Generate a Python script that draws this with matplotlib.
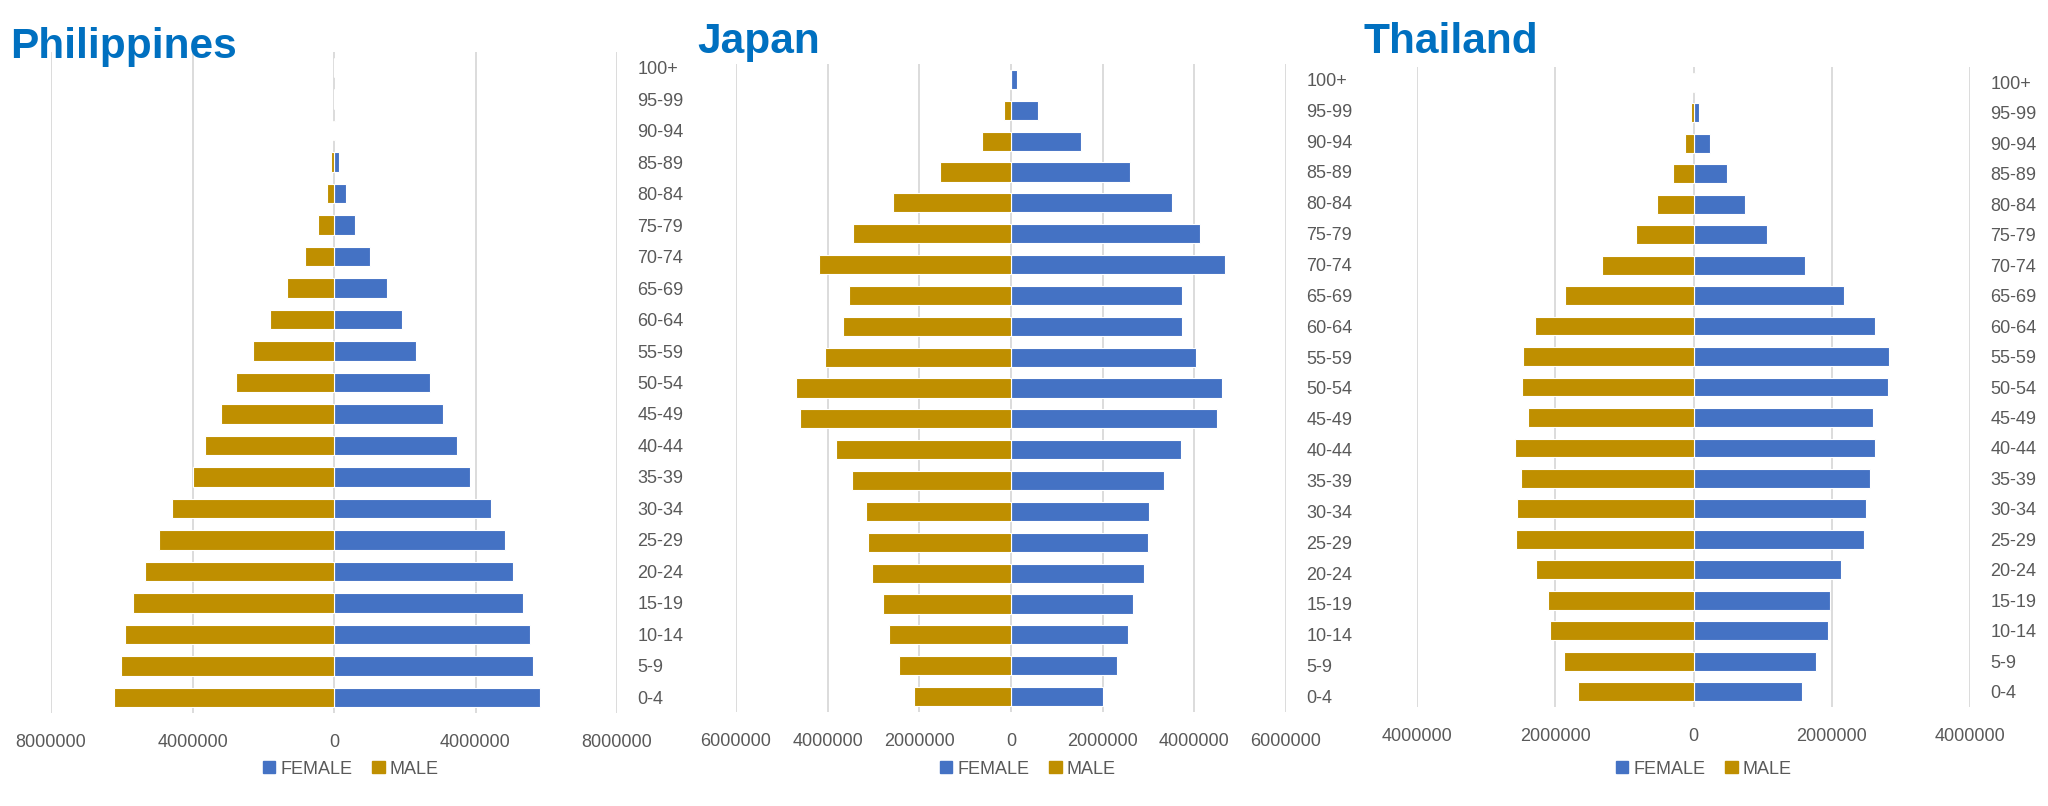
import matplotlib.pyplot as plt
from matplotlib.patches import Patch

# age groups, bottom to top
ages = ['0-4', '5-9', '10-14', '15-19', '20-24', '25-29', '30-34', '35-39',
        '40-44', '45-49', '50-54', '55-59', '60-64', '65-69', '70-74',
        '75-79', '80-84', '85-89', '90-94', '95-99', '100+']

# population, millions
ph_female = [5.83, 5.62, 5.53, 5.33, 5.05, 4.83, 4.43, 3.85, 3.48, 3.07, 2.72,
             2.33, 1.93, 1.51, 1.03, 0.60, 0.33, 0.14, 0.04, 0.008, 0.001]
ph_male = [6.22, 6.01, 5.92, 5.68, 5.35, 4.96, 4.57, 3.99, 3.65, 3.20, 2.78,
           2.29, 1.80, 1.32, 0.83, 0.44, 0.20, 0.08, 0.02, 0.003, 0.0]

jp_female = [2.00, 2.32, 2.55, 2.67, 2.90, 2.98, 3.02, 3.34, 3.70, 4.49, 4.61,
             4.04, 3.73, 3.72, 4.66, 4.13, 3.51, 2.60, 1.52, 0.59, 0.12]
jp_male = [2.11, 2.44, 2.67, 2.80, 3.03, 3.12, 3.17, 3.47, 3.81, 4.60, 4.69,
           4.06, 3.67, 3.54, 4.19, 3.45, 2.58, 1.55, 0.64, 0.16, 0.02]

th_female = [1.57, 1.77, 1.95, 1.98, 2.14, 2.47, 2.49, 2.55, 2.62, 2.59, 2.81,
             2.83, 2.63, 2.17, 1.61, 1.06, 0.74, 0.48, 0.24, 0.08, 0.02]
th_male = [1.67, 1.88, 2.08, 2.10, 2.28, 2.57, 2.55, 2.50, 2.58, 2.40, 2.48,
           2.46, 2.30, 1.86, 1.33, 0.83, 0.53, 0.30, 0.13, 0.04, 0.005]

FEMALE_C = '#4472C4'
MALE_C = '#BF8F00'
TEXT_C = '#595959'
GRID_C = '#D9D9D9'
TITLE_C = '#0070C0'

plt.rcParams['font.family'] = ['Liberation Sans', 'DejaVu Sans']

W, H = 2048, 806
fig = plt.figure(figsize=(W / 100, H / 100), dpi=100)

# (title, female, male, limit, step, axes box in px, title pos, legend center)
panels = [
    ('Philippines', ph_female, ph_male, 8e6, 4e6, (51, 52, 617, 713), (10, 58), (351, 769)),
    ('Japan', jp_female, jp_male, 6e6, 2e6, (736, 64, 1286, 712), (697, 53), (1028, 769)),
    ('Thailand', th_female, th_male, 4e6, 2e6, (1417, 67, 1970, 707), (1364, 53), (1704, 769)),
]

for title, fem, mal, lim, step, box, tpos, lpos in panels:
    x0, y0, x1, y1 = box
    ax = fig.add_axes([x0 / W, 1 - y1 / H, (x1 - x0) / W, (y1 - y0) / H])
    y = list(range(len(ages)))
    ax.barh(y, [v * 1e6 for v in fem], height=0.62, color=FEMALE_C,
            edgecolor='white', linewidth=0.8, label='FEMALE', zorder=2)
    ax.barh(y, [-v * 1e6 for v in mal], height=0.62, color=MALE_C,
            edgecolor='white', linewidth=0.8, label='MALE', zorder=2)

    ax.set_xlim(-lim, lim)
    ax.set_ylim(-0.5, len(ages) - 0.5)
    ticks = []
    t = -lim
    while t <= lim + 1:
        ticks.append(t)
        t += step
    ax.set_xticks(ticks)
    ax.set_xticklabels([str(int(abs(v))) for v in ticks])
    ax.set_yticks(y)
    ax.set_yticklabels(ages)
    ax.yaxis.tick_right()
    ax.tick_params(axis='y', length=0, pad=14.5, labelsize=13, labelcolor=TEXT_C)
    ax.tick_params(axis='x', length=0, pad=15, labelsize=13, labelcolor=TEXT_C)
    ax.grid(axis='x', color=GRID_C, linewidth=1.3, zorder=0)
    ax.set_axisbelow(True)
    for s in ax.spines.values():
        s.set_visible(False)

    fig.text(tpos[0] / W, 1 - tpos[1] / H, title, color=TITLE_C, fontsize=30.5,
             fontweight='bold', va='baseline', ha='left')

    handles = [Patch(color=FEMALE_C, label='FEMALE'), Patch(color=MALE_C, label='MALE')]
    fig.legend(handles=handles, loc='center', ncol=2, frameon=False,
               bbox_to_anchor=(lpos[0] / W, 1 - lpos[1] / H),
               fontsize=13, labelcolor=TEXT_C, handlelength=0.67,
               handleheight=0.67, handletextpad=0.3, columnspacing=1.1)

fig.savefig('out.png', dpi=100)
